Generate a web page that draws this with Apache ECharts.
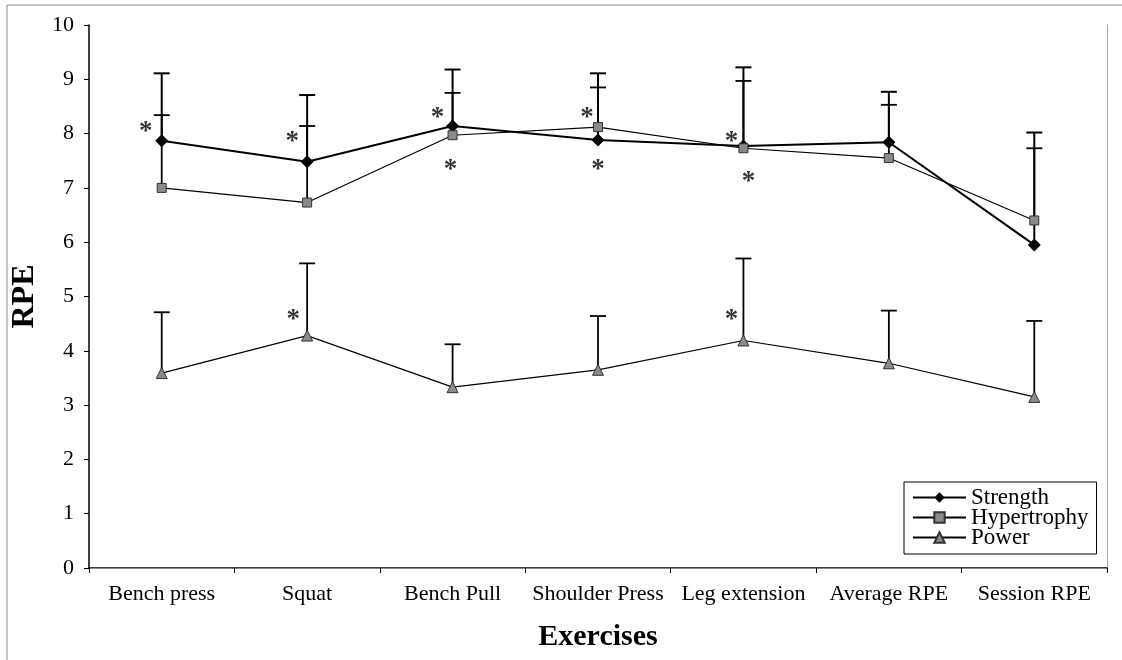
<!DOCTYPE html>
<html>
<head>
<meta charset="utf-8">
<script src="https://cdn.jsdelivr.net/npm/echarts@6/dist/echarts.min.js"></script>
<style>
html,body{margin:0;padding:0;background:#fff;}
#chart{width:1122px;height:660px;}
</style>
</head>
<body>
<div id="chart"></div>
<script>
// ---- data ----
const categories = ['Bench press', 'Squat', 'Bench Pull', 'Shoulder Press', 'Leg extension', 'Average RPE', 'Session RPE'];
const strengthMean = [7.87, 7.48, 8.14, 7.88, 7.77, 7.84, 5.95];
const strengthSD   = [1.24, 1.23, 1.04, 1.23, 1.45, 0.93, 2.07];
const hypertrophyMean = [7.00, 6.73, 7.97, 8.12, 7.73, 7.55, 6.40];
const hypertrophySD   = [1.34, 1.41, 0.78, 0.73, 1.24, 0.98, 1.33];
const powerMean = [3.59, 4.28, 3.33, 3.65, 4.19, 3.77, 3.15];
const powerSD   = [1.12, 1.33, 0.79, 0.99, 1.51, 0.97, 1.40];
const yTicks = [0, 1, 2, 3, 4, 5, 6, 7, 8, 9, 10];
// significance asterisks: category index and value level
const starCategory = [0, 1, 2, 2, 3, 3, 4, 4, 1, 4];
const starValue    = [8.12, 7.94, 8.38, 7.42, 8.38, 7.42, 7.94, 7.20, 4.66, 4.65];

// ---- styling (horizontal label nudges for each asterisk, px) ----
const starNudge = [-16, -15, -15, -2, -11, 0, -12, 5, -14, -12];

const serif = "'Liberation Serif', 'DejaVu Serif', serif";

function errData(mean, sd) {
  return mean.map((m, i) => [i, m, +(m + sd[i]).toFixed(2)]);
}

function errSeries(mean, sd, width) {
  return {
    type: 'custom',
    data: errData(mean, sd),
    z: 1,
    silent: true,
    renderItem: function (params, api) {
      const p0 = api.coord([api.value(0), api.value(1)]);
      const p1 = api.coord([api.value(0), api.value(2)]);
      const half = 8;
      const st = { stroke: '#000', lineWidth: width, fill: null };
      return {
        type: 'group',
        children: [
          { type: 'line', shape: { x1: p0[0], y1: p0[1], x2: p1[0], y2: p1[1] }, style: st },
          { type: 'line', shape: { x1: p1[0] - half, y1: p1[1], x2: p1[0] + half, y2: p1[1] }, style: st }
        ]
      };
    }
  };
}

const chart = echarts.init(document.getElementById('chart'), null, { renderer: 'canvas' });

const option = {
  backgroundColor: '#fff',
  animation: false,
  textStyle: { fontFamily: serif, color: '#000' },
  graphic: [{
    type: 'rect',
    shape: { x: 7, y: 5, width: 1200, height: 700 },
    style: { fill: null, stroke: '#888', lineWidth: 1 },
    silent: true, z: -10
  }],
  grid: { left: 89, right: 15, top: 25, bottom: 92, containLabel: false },
  legend: {
    data: ['Strength', 'Hypertrophy', 'Power'],
    orient: 'vertical',
    left: 904, top: 482,
    itemWidth: 53, itemHeight: 13, itemGap: -3,
    padding: [4, 8, 5, 8],
    borderColor: '#000', borderWidth: 1,
    backgroundColor: '#fff',
    textStyle: { fontFamily: serif, fontSize: 23, color: '#000', lineHeight: 20 }
  },
  xAxis: [{
    type: 'category',
    data: categories,
    boundaryGap: true,
    axisLine: { lineStyle: { color: '#000', width: 1.5 } },
    axisTick: { show: true, length: 5, lineStyle: { color: '#000', width: 1 } },
    axisLabel: { fontFamily: serif, fontSize: 22, color: '#000', margin: 15, interval: 0 },
    splitLine: { show: false },
    name: 'Exercises',
    nameLocation: 'middle',
    nameGap: 54,
    nameTextStyle: { fontFamily: serif, fontSize: 30, fontWeight: 'bold', color: '#000' }
  }, {
    type: 'category',
    data: categories,
    position: 'top',
    axisLine: { lineStyle: { color: '#999', width: 1, type: 'dotted' } },
    axisTick: { show: false }, axisLabel: { show: false }, splitLine: { show: false }
  }],
  yAxis: [{
    type: 'value',
    min: yTicks[0], max: yTicks[yTicks.length - 1], interval: 1,
    axisLine: { show: true, lineStyle: { color: '#000', width: 1.5 } },
    axisTick: { show: true, length: 5, lineStyle: { color: '#000', width: 1 } },
    axisLabel: { fontFamily: serif, fontSize: 22, color: '#000', margin: 15 },
    splitLine: { show: false },
    name: 'RPE',
    nameLocation: 'middle',
    nameGap: 32,
    nameRotate: 90,
    nameTextStyle: { fontFamily: serif, fontSize: 32, fontWeight: 'bold', color: '#000' }
  }, {
    type: 'value',
    min: 0, max: 10, interval: 1,
    position: 'right',
    axisLine: { show: true, lineStyle: { color: '#999', width: 1, type: 'dotted' } },
    axisTick: { show: false }, axisLabel: { show: false }, splitLine: { show: false }
  }],
  series: [
    errSeries(strengthMean, strengthSD, 2),
    errSeries(hypertrophyMean, hypertrophySD, 1.8),
    errSeries(powerMean, powerSD, 1.8),
    {
      name: 'Strength', type: 'line', data: strengthMean, z: 3,
      symbol: 'diamond', symbolSize: 13, showAllSymbol: true,
      lineStyle: { color: '#000', width: 2 },
      itemStyle: { color: '#000', borderColor: '#000', borderWidth: 0 }
    },
    {
      name: 'Hypertrophy', type: 'line', data: hypertrophyMean, z: 3,
      symbol: 'rect', symbolSize: 9, showAllSymbol: true,
      lineStyle: { color: '#000', width: 1.2 },
      itemStyle: { color: '#8a8a8a', borderColor: '#333', borderWidth: 1 }
    },
    {
      name: 'Power', type: 'line', data: powerMean, z: 3,
      symbol: 'triangle', symbolSize: 11, showAllSymbol: true,
      lineStyle: { color: '#000', width: 1.2 },
      itemStyle: { color: '#8a8a8a', borderColor: '#333', borderWidth: 1 }
    },
    {
      type: 'scatter', silent: true, z: 4,
      symbolSize: 0,
      data: starCategory.map((c, i) => ({
        value: [c, starValue[i]],
        label: { offset: [starNudge[i], 5] }
      })),
      label: {
        show: true, position: 'inside', formatter: '*',
        fontFamily: serif, fontSize: 27, fontWeight: 'bold', color: '#000',
        align: 'center', verticalAlign: 'middle'
      }
    }
  ]
};

chart.setOption(option);
</script>
</body>
</html>
